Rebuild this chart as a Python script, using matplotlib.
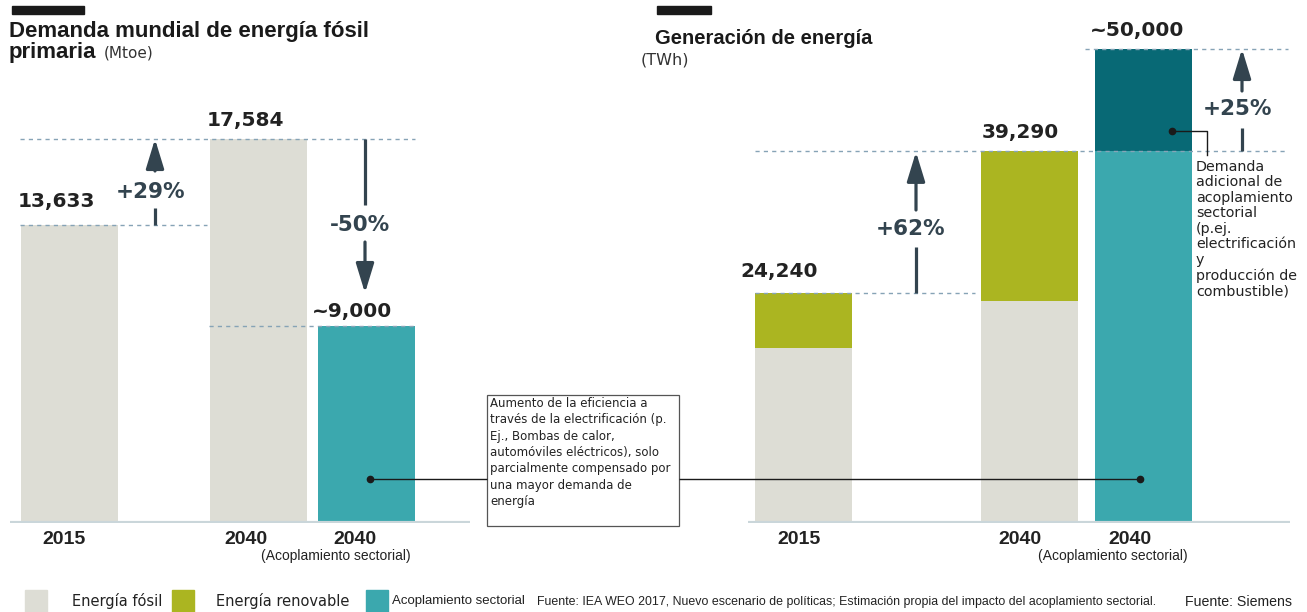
import matplotlib.pyplot as plt
from matplotlib.patches import Rectangle

# colores
c_fosil = '#DDDDD5'
c_renov = '#ABB521'
c_acopl = '#3BA8AE'
c_extra = '#086975'
c_flecha = '#33444F'
c_dash = '#86A3B6'
c_base = '#CAD6DA'
c_txt = '#222222'

# datos - demanda de energia fosil primaria (Mtoe)
izq_cats = ['2015', '2040', '2040']
izq_fosil = [13633, 17584, 0]
izq_acopl = [0, 0, 9000]
izq_etiquetas = ['13,633', '17,584', '~9,000']
izq_pct = ['+29%', '-50%']

# datos - generacion de energia (TWh)
der_cats = ['2015', '2040', '2040']
der_fosil = [18460, 23420, 0]
der_renov = [5780, 15870, 0]
der_acopl = [0, 0, 39290]
der_extra = [0, 0, 10710]
der_etiquetas = ['24,240', '39,290', '~50,000']
der_pct = ['+62%', '+25%']

sub_cat = '(Acoplamiento sectorial)'

# layout (pixeles)
izq_x = [69, 258, 366.5]
der_x = [803.5, 1029, 1143.5]
ancho = 97
izq_lab_dx = [-13, -13, -14]
izq_lab_dy = [24, 19, 15]
der_lab_dx = [-24, -9, -6]
der_lab_dy = [22, 18, 19]
izq_year_dx = [-5, -12, -12]
der_year_dx = [-4, -9, -14]

W, H = 1307, 612
fig = plt.figure(figsize=(W / 100, H / 100), dpi=100)

ax1 = fig.add_axes([10 / W, 89 / H, 460 / W, 523 / H])
ax2 = fig.add_axes([748 / W, 89 / H, 542 / W, 523 / H])
ax1.set_xlim(10, 470)
ax1.set_ylim(0, 23950)
ax2.set_xlim(748, 1290)
ax2.set_ylim(0, 55170)

# barras
ax1.bar(izq_x, izq_fosil, width=ancho, color=c_fosil, zorder=2)
ax1.bar(izq_x, izq_acopl, width=ancho, color=c_acopl, zorder=2)

ax2.bar(der_x, der_fosil, width=ancho, color=c_fosil, zorder=2)
ax2.bar(der_x, der_renov, width=ancho, bottom=der_fosil, color=c_renov, zorder=2)
ax2.bar(der_x, der_acopl, width=ancho, color=c_acopl, zorder=2)
ax2.bar(der_x, der_extra, width=ancho, bottom=der_acopl, color=c_extra, zorder=2)

izq_tot = [a + b for a, b in zip(izq_fosil, izq_acopl)]
der_tot = [a + b + c + d for a, b, c, d in zip(der_fosil, der_renov, der_acopl, der_extra)]

for ax in (ax1, ax2):
    ax.axis('off')
    ax.axhline(0, color=c_base, lw=3, zorder=3)

# lineas punteadas
dash = dict(color=c_dash, lw=1, linestyles=(0, (3, 3)), zorder=3)
ax1.hlines(izq_tot[0], 20, 207, **dash)
ax1.hlines(izq_tot[1], 20, 415, **dash)
ax1.hlines(izq_tot[2], 209, 415, **dash)
ax2.hlines(der_tot[0], 755, 975, **dash)
ax2.hlines(der_tot[1], 755, 1288, **dash)
ax2.hlines(der_tot[2], 1085, 1288, **dash)

# valores
for ax, xs, labs, tots, dxs, dys in [(ax1, izq_x, izq_etiquetas, izq_tot, izq_lab_dx, izq_lab_dy),
                                     (ax2, der_x, der_etiquetas, der_tot, der_lab_dx, der_lab_dy)]:
    for x, lab, t, dx, dy in zip(xs, labs, tots, dxs, dys):
        ax.annotate(lab, xy=(x, t), xytext=(dx, dy), textcoords='offset pixels',
                    ha='center', va='center', fontsize=14.5, fontweight='bold',
                    color=c_txt, family='DejaVu Sans')

# anos
for ax, xs, cats, dxs in [(ax1, izq_x, izq_cats, izq_year_dx), (ax2, der_x, der_cats, der_year_dx)]:
    for x, c, dx in zip(xs, cats, dxs):
        ax.annotate(c, xy=(x, 0), xytext=(dx, -17), textcoords='offset pixels',
                    ha='center', va='center', fontsize=14, fontweight='bold',
                    color=c_txt, family='Liberation Sans', annotation_clip=False)
    ax.annotate(sub_cat, xy=(xs[2], 0), xytext=(-31, -33), textcoords='offset pixels',
                ha='center', va='center', fontsize=10, color=c_txt,
                family='Liberation Sans', annotation_clip=False)

# flechas
def flecha(ax, x, y0, y1, y2, y3, ytxt, txt, arriba=True):
    ap = dict(arrowstyle='-|>,head_length=1.8,head_width=0.55', mutation_scale=10,
              lw=2.3, color=c_flecha, shrinkA=0, shrinkB=0)
    if arriba:
        ax.plot([x, x], [y0, y1], color=c_flecha, lw=2.3, solid_capstyle='butt', zorder=4)
        ax.annotate('', xy=(x, y3), xytext=(x, y2), arrowprops=ap, zorder=4)
    else:
        ax.plot([x, x], [y3, y2], color=c_flecha, lw=2.3, solid_capstyle='butt', zorder=4)
        ax.annotate('', xy=(x, y0), xytext=(x, y1), arrowprops=ap, zorder=4)
    ax.text(x - 5, ytxt, txt, ha='center', va='center', fontsize=15.5, fontweight='bold',
            color=c_flecha, family='DejaVu Sans', zorder=4)

flecha(ax1, 155, izq_tot[0], 14424, 16119, izq_tot[1], 15157, izq_pct[0])
flecha(ax1, 365, 10532, 12867, 14562, izq_tot[1], 13646, izq_pct[1], arriba=False)
flecha(ax2, 916, der_tot[0], 29114, 33017, 39150, 31013, der_pct[0])
flecha(ax2, 1242, der_tot[1], 41667, 45570, der_tot[2], 43671, der_pct[1])

# capa de anotaciones en pixeles
ov = fig.add_axes([0, 0, 1, 1], zorder=5)
ov.set_xlim(0, W)
ov.set_ylim(H, 0)
ov.axis('off')
ov.patch.set_alpha(0)

ov.add_patch(Rectangle((12, 6), 72, 8, color='#1a1a1a'))
ov.add_patch(Rectangle((657, 6), 54, 8, color='#1a1a1a'))
ov.text(9, 36.5, 'Demanda mundial de energía fósil', fontsize=16, fontweight='bold',
        family='Liberation Sans', color='#1a1a1a', va='baseline')
ov.text(9, 58, 'primaria', fontsize=16, fontweight='bold',
        family='Liberation Sans', color='#1a1a1a', va='baseline')
ov.text(104, 58, '(Mtoe)', fontsize=11, family='DejaVu Sans', color='#333333', va='baseline')
ov.text(655, 44, 'Generación de energía', fontsize=14.5, fontweight='bold',
        family='Liberation Sans', color='#1a1a1a', va='baseline')
ov.text(641, 60, '(TWh)', fontsize=11.5, family='DejaVu Sans', color='#333333', va='center')

# recuadro de texto
ov.hlines(479, 370, 487, color='#1a1a1a', lw=1)
ov.hlines(479, 679, 1140, color='#1a1a1a', lw=1)
ov.plot([370, 1140], [479, 479], 'o', color='#1a1a1a', ms=4.5)
ov.add_patch(Rectangle((487, 395), 192, 131, facecolor='white', edgecolor='#555555', lw=0.9))
ov.text(490, 397, 'Aumento de la eficiencia a\ntravés de la electrificación (p.\n'
        'Ej., Bombas de calor,\nautomóviles eléctricos), solo\n'
        'parcialmente compensado por\nuna mayor demanda de\nenergía',
        fontsize=8.5, family='DejaVu Sans', color=c_txt, va='top', linespacing=1.33)

ov.plot([1172, 1207, 1207], [131, 131, 155], color='#1a1a1a', lw=1)
ov.plot([1172], [131], 'o', color='#1a1a1a', ms=4.5)
ov.text(1196, 160, 'Demanda\nadicional de\nacoplamiento\nsectorial\n(p.ej.\n'
        'electrificación\ny\nproducción de\ncombustible)',
        fontsize=10.3, family='DejaVu Sans', color=c_txt, va='top', linespacing=1.13)

# leyenda
ley = [(25, c_fosil), (172, c_renov), (366, c_acopl)]
for x, c in ley:
    ov.add_patch(Rectangle((x, 590), 22, 24, color=c))
ov.text(72, 601, 'Energía fósil', fontsize=10.5, family='DejaVu Sans', color=c_txt, va='center')
ov.text(216, 601, 'Energía renovable', fontsize=10.5, family='DejaVu Sans', color=c_txt, va='center')
ov.text(392, 601, 'Acoplamiento sectorial', fontsize=9.5, family='Liberation Sans',
        color=c_txt, va='center')
ov.text(537, 602, 'Fuente: IEA WEO 2017, Nuevo escenario de políticas; Estimación propia del '
        'impacto del acoplamiento sectorial.', fontsize=8.9, family='Liberation Sans',
        color=c_txt, va='center')
ov.text(1185, 602, 'Fuente: Siemens', fontsize=10.2, family='Liberation Sans',
        color=c_txt, va='center')

fig.savefig('out.png', dpi=100)
